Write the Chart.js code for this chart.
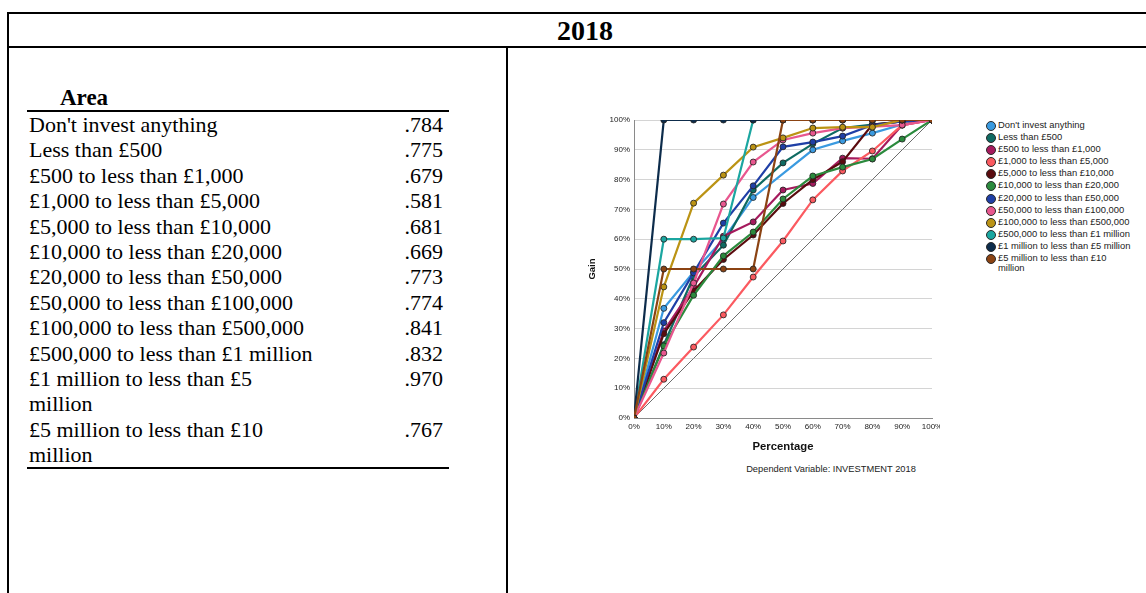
<!DOCTYPE html>
<html>
<head>
<meta charset="utf-8">
<title>2018</title>
<script src="https://cdn.jsdelivr.net/npm/chart.js@4/dist/chart.umd.min.js"></script>
<style>
  html, body { margin: 0; padding: 0; background: #fff; }
  body { position: relative; width: 1146px; height: 593px; overflow: hidden;
         font-family: "Liberation Serif", "Times New Roman", serif; color: #000; }
  .rule { position: absolute; background: #000; }
  #title { position: absolute; left: 485px; top: 14px; width: 200px; text-align: center;
           font-weight: bold; font-size: 28px; line-height: 34px; }
  #areaHead { position: absolute; left: 60px; top: 84px; font-weight: bold; font-size: 23px; line-height: 28px; }
  #areaRows { position: absolute; left: 29px; top: 112px; width: 414px; font-size: 22px; line-height: 25.4px; }
  .row { display: flex; align-items: flex-start; }
  .row .lab { width: 288px; }
  .row .val { flex: 1; text-align: right; }
  #chartBox { position: absolute; left: 575px; top: 108px; width: 365px; height: 352px; }
  #legend { position: absolute; left: 986px; top: 120px; font-family: "Liberation Sans", Arial, sans-serif;
            font-size: 9.4px; color: #222; }
  .li { display: flex; align-items: flex-start; height: 12.1px; }
  .li .dot { width: 8px; height: 8px; border-radius: 50%; border: 1px solid #2a2a2a; margin: 1px 2px 0 0; flex: none; }
  .li .txt { width: 136px; line-height: 9.6px; }
  #foot { position: absolute; left: 700px; top: 464px; width: 262px; text-align: center;
          font-family: "Liberation Sans", Arial, sans-serif; font-size: 9.3px; color: #222; }
</style>
</head>
<body>
<div class="rule" style="left:7px; top:12px; width:1139px; height:2px;"></div>
<div class="rule" style="left:7px; top:46px; width:1139px; height:2px;"></div>
<div class="rule" style="left:7px; top:12px; width:2px; height:581px;"></div>
<div class="rule" style="left:506px; top:46px; width:2px; height:547px;"></div>
<div id="title">2018</div>

<div id="areaHead">Area</div>
<div class="rule" style="left:27px; top:110px; width:422px; height:1.5px;"></div>
<div id="areaRows"></div>
<div class="rule" id="areaBottom" style="left:27px; top:467px; width:422px; height:2px;"></div>

<div id="chartBox"><canvas id="gains" width="365" height="352"></canvas></div>
<div id="legend"></div>
<div id="foot">Dependent Variable: INVESTMENT 2018</div>

<script>
// Investment bands (categories of the dependent variable)
const categories = [
  "Don't invest anything",
  "Less than £500",
  "£500 to less than £1,000",
  "£1,000 to less than £5,000",
  "£5,000 to less than £10,000",
  "£10,000 to less than £20,000",
  "£20,000 to less than £50,000",
  "£50,000 to less than £100,000",
  "£100,000 to less than £500,000",
  "£500,000 to less than £1 million",
  "£1 million to less than £5 million",
  "£5 million to less than £10 million"
];

// Area under the ROC curve for each band
const areaValues = [0.784, 0.775, 0.679, 0.581, 0.681, 0.669, 0.773, 0.774, 0.841, 0.832, 0.970, 0.767];

// Percentage of cases (x) at each decile
const deciles = [0, 10, 20, 30, 40, 50, 60, 70, 80, 90, 100];

// Cumulative gain (%) per band at each decile; null = no point drawn there
const gainDontInvest   = [0, 36.8, 49.0, 60.0, 74.0, null, 90.0, 93.0, 95.6, 98.5, 100];
const gainUnder500     = [0, 24.6, 47.5, 58.0, 76.5, 85.6, 92.0, 97.3, 98.5, 99.5, 100];
const gain500to1k      = [0, 29.2, 44.0, 61.0, 65.8, 76.5, 78.7, 87.2, 87.0, 98.3, 100];
const gain1kto5k       = [0, 13.0, 23.8, 34.6, 47.3, 59.4, 73.2, 82.9, 89.6, 98.3, 100];
const gain5kto10k      = [0, 28.3, 42.6, 53.2, 61.4, 72.0, 80.0, 86.0, 98.5, 99.5, 100];
const gain10kto20k     = [0, 24.2, 41.2, 54.4, 62.4, 73.5, 81.2, 84.2, 86.9, 93.6, 100];
const gain20kto50k     = [0, 32.0, 48.7, 65.4, 77.9, 91.0, 92.6, 94.6, 98.3, 99.5, 100];
const gain50kto100k    = [0, 21.8, 45.3, 71.8, 85.9, 93.3, 95.6, 97.3, 97.8, 98.3, 100];
const gain100kto500k   = [0, 44.0, 72.1, 81.5, 90.9, 94.0, 97.3, 97.6, 97.6, 100, 100];
const gain500kto1m     = [0, 60.0, 60.0, 60.4, 100, 100, 100, 100, 100, 100, 100];
const gain1mto5m       = [0, 100, 100, 100, 100, 100, 100, 100, 100, 100, 100];
const gain5mto10m      = [0, 50.0, 50.0, 50.0, 50.0, 100, 100, 100, 100, 100, 100];

const series = [gainDontInvest, gainUnder500, gain500to1k, gain1kto5k, gain5kto10k, gain10kto20k,
                gain20kto50k, gain50kto100k, gain100kto500k, gain500kto1m, gain1mto5m, gain5mto10m];

const colors = ["#3a9ae0", "#0f6a62", "#a51a5d", "#fb5a60", "#5a0b0e", "#2b8a3d",
                "#1f3fa6", "#e8578f", "#bb9314", "#1ba6a0", "#0d2c4b", "#8b4313"];

// Area table
const rowsEl = document.getElementById('areaRows');
categories.forEach((name, i) => {
  const r = document.createElement('div');
  r.className = 'row';
  const lab = document.createElement('div'); lab.className = 'lab'; lab.textContent = name;
  const val = document.createElement('div'); val.className = 'val';
  val.textContent = areaValues[i].toFixed(3).replace(/^0/, '');
  r.appendChild(lab); r.appendChild(val);
  rowsEl.appendChild(r);
});

// Legend
const legEl = document.getElementById('legend');
categories.forEach((name, i) => {
  const li = document.createElement('div'); li.className = 'li';
  const dot = document.createElement('span'); dot.className = 'dot'; dot.style.background = colors[i];
  const txt = document.createElement('span'); txt.className = 'txt'; txt.textContent = name;
  li.appendChild(dot); li.appendChild(txt);
  legEl.appendChild(li);
});

const tickFont = { family: "'Liberation Sans', Arial, sans-serif", size: 8 };
const pct = v => v + '%';

const datasets = series.map((vals, i) => ({
  label: categories[i],
  data: vals,
  borderColor: colors[i],
  backgroundColor: colors[i],
  pointBackgroundColor: colors[i],
  pointBorderColor: 'rgba(35,35,35,0.85)',
  pointBorderWidth: 1,
  pointRadius: 3,
  borderWidth: 2.2,
  spanGaps: true,
  tension: 0,
  order: categories.length - i
}));
// Baseline (random model) diagonal
datasets.push({
  label: 'Baseline', data: deciles, borderColor: '#6d6d6d', borderWidth: 1,
  pointRadius: 0, tension: 0, order: 100
});

new Chart(document.getElementById('gains'), {
  type: 'line',
  data: { labels: deciles, datasets },
  options: {
    responsive: false,
    animation: false,
    layout: { padding: { top: 12, right: 8, bottom: 0, left: 0 } },
    plugins: { legend: { display: false }, tooltip: { enabled: false } },
    scales: {
      x: {
        type: 'linear', min: 0, max: 100,
        ticks: { stepSize: 10, callback: pct, font: tickFont, color: '#222', padding: 4, maxRotation: 0, autoSkip: false },
        grid: { display: false, drawTicks: false },
        border: { display: true, color: '#8a8a8a', width: 1 },
        title: { display: true, text: 'Percentage', color: '#111',
                 font: { family: "'Liberation Sans', Arial, sans-serif", size: 11.3, weight: 'bold' },
                 padding: { top: 0, bottom: 6 } },
        afterFit: s => { s.height = 42; s.paddingLeft = 0; s.paddingRight = 0; }
      },
      y: {
        min: 0, max: 100,
        ticks: { stepSize: 10, callback: pct, font: tickFont, color: '#222', padding: 4 },
        grid: { color: '#d4d4d4', lineWidth: 1, drawTicks: false },
        border: { display: true, color: '#8a8a8a', width: 1 },
        title: { display: true, text: 'Gain', color: '#111',
                 font: { family: "'Liberation Sans', Arial, sans-serif", size: 9.5, weight: 'bold' },
                 padding: { top: 12, bottom: 0 } },
        afterFit: s => { s.width = 59; s.paddingTop = 0; s.paddingBottom = 0; }
      }
    }
  }
});
</script>
</body>
</html>
